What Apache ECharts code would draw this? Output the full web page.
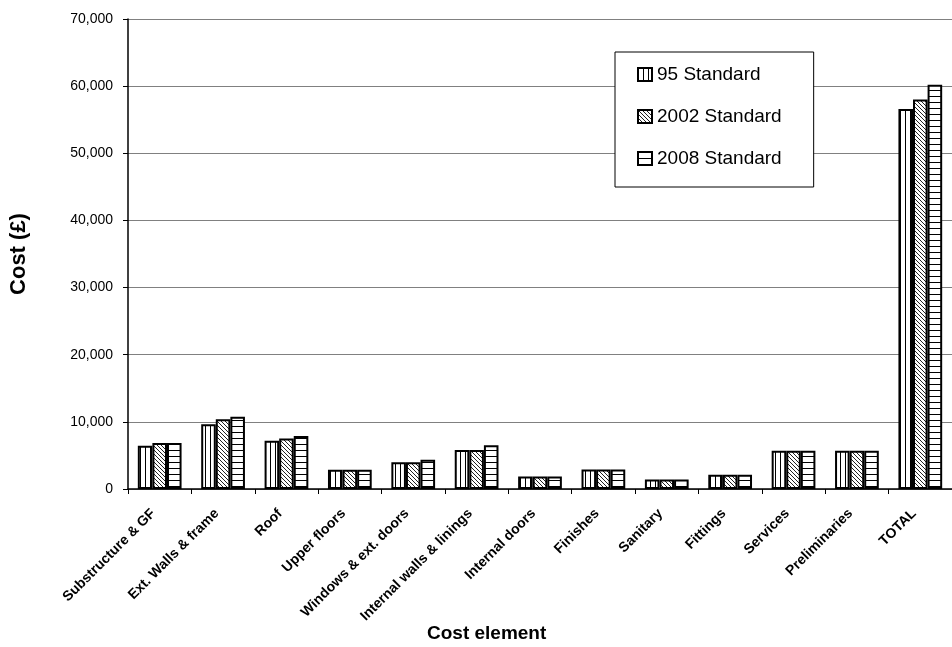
<!DOCTYPE html>
<html>
<head>
<meta charset="utf-8">
<script src="https://cdn.jsdelivr.net/npm/echarts@6/dist/echarts.min.js"></script>
<style>
  html, body { margin: 0; padding: 0; background: #fff; }
  #chart { width: 952px; height: 647px; }
</style>
</head>
<body>
<div id="chart"></div>
<script>
// 원가 항목 (categories)
const categories = [
  'Substructure & GF', 'Ext. Walls & frame', 'Roof', 'Upper floors',
  'Windows & ext. doors', 'Internal walls & linings', 'Internal doors',
  'Finishes', 'Sanitary', 'Fittings', 'Services', 'Preliminaries', 'TOTAL'
];
const std95 = [6450, 9650, 7180, 2880, 3980, 5800, 1860, 2900, 1400, 2120, 5700, 5700, 56600];
const std2002 = [6850, 10400, 7530, 2880, 4000, 5800, 1860, 2900, 1400, 2120, 5700, 5700, 58000];
const std2008 = [6850, 10750, 7880, 2880, 4350, 6500, 1860, 2900, 1400, 2120, 5700, 5700, 60200];
const seriesNames = ['95 Standard', '2002 Standard', '2008 Standard'];

const FONT = '"Liberation Sans", Arial, sans-serif';

// 해칭 패턴 만들기
function makePattern(kind) {
  const c = document.createElement('canvas');
  const ctx = c.getContext('2d');
  if (kind === 'vertical') {
    c.width = 5; c.height = 4;
    ctx.fillStyle = '#fff'; ctx.fillRect(0, 0, 5, 4);
    ctx.fillStyle = '#000'; ctx.fillRect(0, 0, 1, 4);
  } else if (kind === 'diagonal') {
    c.width = 4; c.height = 4;
    ctx.fillStyle = '#fff'; ctx.fillRect(0, 0, 4, 4);
    ctx.fillStyle = '#222';
    for (let i = 0; i < 4; i++) ctx.fillRect(i, i, 1, 1);
  } else {
    c.width = 4; c.height = 6;
    ctx.fillStyle = '#fff'; ctx.fillRect(0, 0, 4, 6);
    ctx.fillStyle = '#000'; ctx.fillRect(0, 0, 4, 1);
  }
  return { image: c, repeat: 'repeat' };
}

const patterns = [makePattern('vertical'), makePattern('diagonal'), makePattern('horizontal')];
const values = [std95, std2002, std2008];

const chart = echarts.init(document.getElementById('chart'));
chart.setOption({
  animation: false,
  textStyle: { fontFamily: FONT },
  grid: { left: 128, right: -9, top: 19, bottom: 158 },
  legend: {
    orient: 'vertical',
    left: 615,
    top: 52,
    padding: [13, 32, 19, 22],
    backgroundColor: '#fff',
    borderColor: '#000',
    borderWidth: 1,
    itemGap: 23,
    itemWidth: 14,
    itemHeight: 13,
    icon: 'rect',
    textStyle: { fontSize: 19, color: '#000', fontFamily: FONT },
    data: seriesNames
  },
  graphic: [
    {
      type: 'text',
      left: 427,
      top: 624,
      style: {
        text: 'Cost element', fontSize: 19, fontWeight: 'bold',
        fill: '#000', fontFamily: FONT
      }
    }
  ],
  xAxis: {
    type: 'category',
    data: categories,
    axisLine: { lineStyle: { color: '#000', width: 1.5 } },
    axisTick: { show: true, length: 5, lineStyle: { color: '#000' } },
    axisLabel: {
      interval: 0, rotate: 45, fontSize: 14, fontWeight: 'bold',
      color: '#000', fontFamily: FONT, margin: 16, padding: [0, 9, 0, 0]
    }
  },
  yAxis: {
    type: 'value',
    min: 0,
    max: 70000,
    interval: 10000,
    name: 'Cost (£)',
    nameLocation: 'middle',
    nameGap: 98,
    nameTextStyle: { fontSize: 22, fontWeight: 'bold', color: '#000', fontFamily: FONT },
    axisLine: { show: true, lineStyle: { color: '#000', width: 1.5 } },
    axisTick: { show: true, length: 5, lineStyle: { color: '#000' } },
    axisLabel: {
      fontSize: 14, color: '#000', fontFamily: FONT, margin: 15,
      formatter: (v) => v === 0 ? '0' : v.toLocaleString('en-US')
    },
    splitLine: { lineStyle: { color: '#808080', width: 1 } }
  },
  series: seriesNames.map((name, i) => ({
    name: name,
    type: 'bar',
    data: values[i],
    barGap: '0%',
    barCategoryGap: '31%',
    itemStyle: { color: patterns[i], borderColor: '#000', borderWidth: 2 }
  }))
});
</script>
</body>
</html>
